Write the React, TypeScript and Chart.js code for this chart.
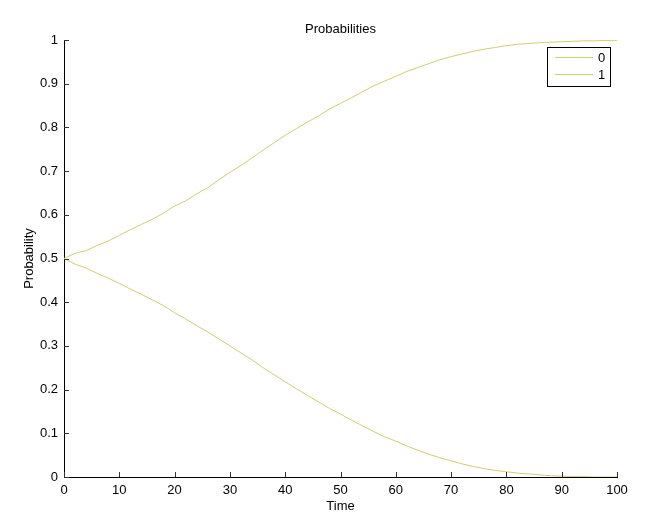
import React, { useEffect, useRef } from "react";
import { Chart, registerables } from "chart.js";

Chart.register(...registerables);

const timeSteps = [0,2,4,6,8,10,12,14,16,18,20,22,24,26,28,30,32,34,36,38,40,42,44,46,48,50,52,54,56,58,60,62,64,66,68,70,72,74,76,78,80,82,84,86,88,90,92,94,96,98,100];
const prob0 = [0.500,0.487,0.478,0.466,0.455,0.443,0.430,0.418,0.405,0.392,0.376,0.362,0.346,0.332,0.316,0.300,0.284,0.268,0.250,0.234,0.218,0.202,0.187,0.172,0.157,0.144,0.130,0.117,0.104,0.092,0.082,0.071,0.061,0.052,0.044,0.037,0.030,0.024,0.019,0.015,0.012,0.009,0.007,0.005,0.003,0.002,0.001,0.001,0.000,0.000,0.000];
const prob1 = [0.500,0.512,0.518,0.530,0.540,0.553,0.566,0.578,0.590,0.604,0.620,0.632,0.648,0.662,0.680,0.697,0.713,0.730,0.748,0.765,0.782,0.797,0.812,0.826,0.842,0.855,0.868,0.882,0.895,0.906,0.917,0.928,0.937,0.946,0.955,0.962,0.968,0.974,0.979,0.983,0.987,0.990,0.992,0.994,0.995,0.996,0.997,0.998,0.998,0.999,0.999];
const seriesLabels = ["0", "1"];
const chartTitle = "Probabilities";
const xTitle = "Time";
const yTitle = "Probability";

const LINE = "rgb(210,205,112)";
const FONT = "'Liberation Sans', Arial, sans-serif";

export default function App() {
  const ref = useRef<HTMLCanvasElement | null>(null);
  useEffect(() => {
    document.body.style.margin = "0";
    const canvas = ref.current!;
    const decor = {
      id: "decor",
      afterDraw(chart: any) {
        const ctx = chart.ctx as CanvasRenderingContext2D;
        const ca = chart.chartArea;
        const xs = chart.scales.x;
        const ys = chart.scales.y;
        ctx.save();
        // inward ticks
        ctx.strokeStyle = "#333";
        ctx.lineWidth = 1;
        ctx.beginPath();
        xs.ticks.forEach((t: any) => {
          const px = Math.round(xs.getPixelForValue(t.value)) + 0.5;
          ctx.moveTo(px, ca.bottom);
          ctx.lineTo(px, ca.bottom - 5);
        });
        ys.ticks.forEach((t: any) => {
          const py = Math.round(ys.getPixelForValue(t.value)) + 0.5;
          ctx.moveTo(ca.left, py);
          ctx.lineTo(ca.left + 5, py);
        });
        ctx.stroke();
        // titles
        ctx.fillStyle = "#000";
        ctx.font = `13px ${FONT}`;
        ctx.textAlign = "center";
        ctx.textBaseline = "middle";
        const cx = (ca.left + ca.right) / 2;
        ctx.fillText(chartTitle, cx, 29);
        ctx.fillText(xTitle, cx, 506);
        ctx.save();
        ctx.translate(29, (ca.top + ca.bottom) / 2);
        ctx.rotate(-Math.PI / 2);
        ctx.fillText(yTitle, 0, 0);
        ctx.restore();
        // legend
        const bx = 547.5, by = 47.5, bw = 63, bh = 39;
        ctx.fillStyle = "#fff";
        ctx.fillRect(bx, by, bw, bh);
        ctx.strokeStyle = "#000";
        ctx.strokeRect(bx, by, bw, bh);
        seriesLabels.forEach((lab, i) => {
          const ly = by + 10 + i * 17;
          ctx.strokeStyle = LINE;
          ctx.beginPath();
          ctx.moveTo(555, ly);
          ctx.lineTo(593, ly);
          ctx.stroke();
          ctx.fillStyle = "#000";
          ctx.textAlign = "left";
          ctx.fillText(lab, 598, ly + 1);
        });
        ctx.restore();
      },
    };
    const chart = new Chart(canvas, {
      type: "line",
      data: {
        datasets: [
          { label: seriesLabels[0], data: timeSteps.map((t, i) => ({ x: t, y: prob0[i] })), borderColor: LINE, borderWidth: 1, pointRadius: 0, tension: 0 },
          { label: seriesLabels[1], data: timeSteps.map((t, i) => ({ x: t, y: prob1[i] })), borderColor: LINE, borderWidth: 1, pointRadius: 0, tension: 0 },
        ],
      },
      options: {
        animation: false,
        responsive: false,
        layout: { padding: { top: 40, right: 47, left: 0, bottom: 0 } },
        plugins: { legend: { display: false }, title: { display: false }, tooltip: { enabled: false } },
        scales: {
          x: {
            type: "linear",
            min: 0,
            max: 100,
            ticks: { stepSize: 10, color: "#000", font: { family: FONT, size: 13 }, padding: 6, maxRotation: 0 },
            grid: { display: false, drawTicks: false },
            border: { display: true, color: "#000" },
            afterFit(scale: any) { scale.height = 55; },
          },
          y: {
            type: "linear",
            min: 0,
            max: 1,
            ticks: { stepSize: 0.1, color: "#000", font: { family: FONT, size: 13 }, padding: 6, callback: (v: any) => String(Math.round(Number(v) * 10) / 10) },
            grid: { display: false, drawTicks: false },
            border: { display: true, color: "#000" },
            afterFit(scale: any) { scale.width = 64; },
          },
        },
      },
      plugins: [decor],
    });
    return () => chart.destroy();
  }, []);
  return <canvas ref={ref} width={664} height={532} style={{ display: "block" }} />;
}
